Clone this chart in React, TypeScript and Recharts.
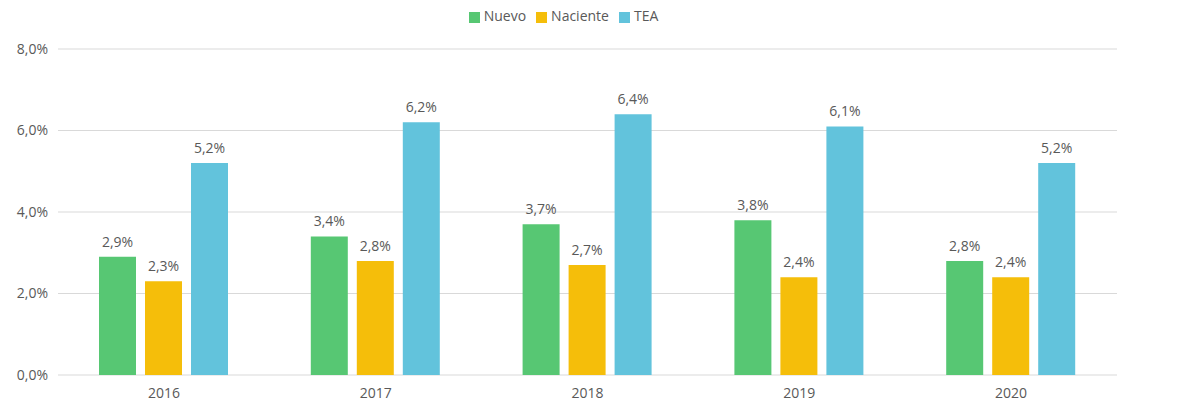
import React from "react";
import { BarChart, Bar, XAxis, YAxis, CartesianGrid, Legend, LabelList } from "recharts";

const years = ["2016", "2017", "2018", "2019", "2020"];
const nuevo = [2.9, 3.4, 3.7, 3.8, 2.8];
const naciente = [2.3, 2.8, 2.7, 2.4, 2.4];
const tea = [5.2, 6.2, 6.4, 6.1, 5.2];
const yTicks = [0, 2, 4, 6, 8];
const seriesOrder = ["Nuevo", "Naciente", "TEA"];

const data = years.map((year, i) => ({
  year,
  Nuevo: nuevo[i],
  Naciente: naciente[i],
  TEA: tea[i],
}));

const fmt = (v: number) => `${v.toFixed(1).replace(".", ",")}%`;

const textColor = "#595959";
const font = "'Open Sans', sans-serif";

const App: React.FC = () => {
  return (
    <div style={{ position: "absolute", left: 0, top: 0, fontFamily: font }}>
      <BarChart
        width={1180}
        height={404}
        data={data}
        margin={{ top: 30, right: 63, bottom: 0, left: 0 }}
        barGap={9}
        barSize={37}
      >
        <CartesianGrid vertical={false} stroke="#d9d9d9" />
        <XAxis
          dataKey="year"
          axisLine={false}
          tickLine={false}
          height={29}
          tick={{ fill: textColor, fontSize: 14, fontFamily: font }}
          tickMargin={7}
        />
        <YAxis
          width={58}
          domain={[0, 8]}
          ticks={yTicks}
          axisLine={false}
          tickLine={false}
          tickFormatter={fmt}
          tick={{ fill: textColor, fontSize: 14, fontFamily: font }}
          tickMargin={4}
        />
        <Legend
          verticalAlign="top"
          align="center"
          iconType="square"
          iconSize={11}
          itemSorter={(item: any) => seriesOrder.indexOf(item.value)}
          wrapperStyle={{ top: 6, left: 10, fontSize: 14, fontFamily: font }}
          formatter={(value: string) => <span style={{ color: textColor }}>{value}</span>}
        />
        <Bar dataKey="Nuevo" fill="#57c773" isAnimationActive={false}>
          <LabelList dataKey="Nuevo" position="top" offset={10} formatter={fmt} fill={textColor} fontSize={14} fontFamily={font} />
        </Bar>
        <Bar dataKey="Naciente" fill="#f5be0a" isAnimationActive={false}>
          <LabelList dataKey="Naciente" position="top" offset={10} formatter={fmt} fill={textColor} fontSize={14} fontFamily={font} />
        </Bar>
        <Bar dataKey="TEA" fill="#62c3dc" isAnimationActive={false}>
          <LabelList dataKey="TEA" position="top" offset={10} formatter={fmt} fill={textColor} fontSize={14} fontFamily={font} />
        </Bar>
      </BarChart>
    </div>
  );
};

export default App;
